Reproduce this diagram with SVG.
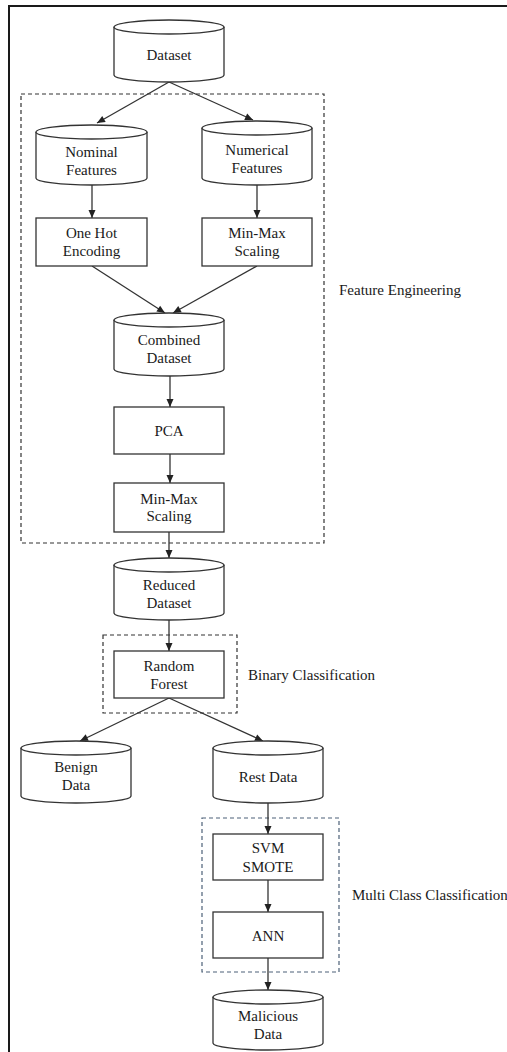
<svg xmlns="http://www.w3.org/2000/svg" width="507" height="1052" viewBox="0 0 507 1052">
<style>
.sh{fill:#fff;stroke:#333;stroke-width:1.3}
.t{font-family:"Liberation Serif","Times New Roman",serif;font-size:15px;fill:#1a1a1a;text-anchor:middle}
.lbl{font-family:"Liberation Serif","Times New Roman",serif;font-size:15px;fill:#1a1a1a}
.c{stroke:#333;stroke-width:1.3;fill:none;marker-end:url(#ah)}
.d{fill:none;stroke:#333;stroke-width:1.2;stroke-dasharray:4 3}
</style>
<defs>
<marker id="ah" markerUnits="userSpaceOnUse" markerWidth="10" markerHeight="10" viewBox="0 0 10 10" refX="9" refY="5" orient="auto">
<path d="M1 1.5 L9 5 L1 8.5 Z" fill="#222"/>
</marker>
</defs>
<rect width="507" height="1052" fill="#fff"/>
<g id="frame" stroke="#1a1a1a" stroke-width="2" fill="none">
<path d="M9 1052 V6 H507"/>
</g>
<g id="groups">
<rect id="fe-box" class="d" x="21" y="94" width="303" height="449"/>
<text class="lbl" x="339" y="295">Feature Engineering</text>
<rect id="bc-box" class="d" x="103" y="635" width="134" height="78"/>
<text class="lbl" x="248" y="680">Binary Classification</text>
<rect id="mc-box" class="d" x="202" y="818" width="137" height="154" style="stroke:#4d6178"/>
<text class="lbl" x="352" y="900">Multi Class Classification</text>
</g>
<g id="connectors">
<path class="c" d="M169 82 L97 123"/>
<path class="c" d="M169 82 L253 120"/>
<path class="c" d="M92 185 V218"/>
<path class="c" d="M257 185 V218"/>
<path class="c" d="M92 266 L165 313"/>
<path class="c" d="M257 266 L173 313"/>
<path class="c" d="M170 376 V407"/>
<path class="c" d="M170 454 V483"/>
<path class="c" d="M169 532 V558"/>
<path class="c" d="M169 620 V651"/>
<path class="c" d="M169 698 L80 741"/>
<path class="c" d="M169 698 L263 741"/>
<path class="c" d="M268 803 V834"/>
<path class="c" d="M268 880 V912"/>
<path class="c" d="M268 958 V990"/>
</g>
<g id="dataset">
<path class="sh" d="M114 27 V75 A55 7 0 0 0 224 75 V27"/>
<ellipse class="sh" cx="169" cy="27" rx="55" ry="7"/>
<text class="t" x="169" y="60">Dataset</text>
</g>
<g id="nominal">
<path class="sh" d="M36 132 V178 A55.5 7 0 0 0 147 178 V132"/>
<ellipse class="sh" cx="91.5" cy="132" rx="55.5" ry="7"/>
<text class="t" x="91.5" y="157">Nominal</text>
<text class="t" x="91.5" y="175">Features</text>
</g>
<g id="numerical">
<path class="sh" d="M202 128 V178 A55 7 0 0 0 312 178 V128"/>
<ellipse class="sh" cx="257" cy="128" rx="55" ry="7"/>
<text class="t" x="257" y="155">Numerical</text>
<text class="t" x="257" y="173">Features</text>
</g>
<g id="onehot">
<rect class="sh" x="36" y="218" width="111" height="48"/>
<text class="t" x="91.5" y="238">One Hot</text>
<text class="t" x="91.5" y="256">Encoding</text>
</g>
<g id="minmax1">
<rect class="sh" x="202" y="218" width="110" height="48"/>
<text class="t" x="257" y="238">Min-Max</text>
<text class="t" x="257" y="256">Scaling</text>
</g>
<g id="combined">
<path class="sh" d="M114 320 V369 A55 7 0 0 0 224 369 V320"/>
<ellipse class="sh" cx="169" cy="320" rx="55" ry="7"/>
<text class="t" x="169" y="345">Combined</text>
<text class="t" x="169" y="363">Dataset</text>
</g>
<g id="pca">
<rect class="sh" x="114" y="407" width="110" height="47"/>
<text class="t" x="169" y="436">PCA</text>
</g>
<g id="minmax2">
<rect class="sh" x="114" y="483" width="110" height="49"/>
<text class="t" x="169" y="504">Min-Max</text>
<text class="t" x="169" y="521">Scaling</text>
</g>
<g id="reduced">
<path class="sh" d="M114 565 V613 A55 7 0 0 0 224 613 V565"/>
<ellipse class="sh" cx="169" cy="565" rx="55" ry="7"/>
<text class="t" x="169" y="590">Reduced</text>
<text class="t" x="169" y="608">Dataset</text>
</g>
<g id="rf">
<rect class="sh" x="114" y="651" width="110" height="47"/>
<text class="t" x="169" y="671">Random</text>
<text class="t" x="169" y="689">Forest</text>
</g>
<g id="benign">
<path class="sh" d="M21 748 V796 A55 7 0 0 0 131 796 V748"/>
<ellipse class="sh" cx="76" cy="748" rx="55" ry="7"/>
<text class="t" x="76" y="772">Benign</text>
<text class="t" x="76" y="790">Data</text>
</g>
<g id="rest">
<path class="sh" d="M213 748 V796 A55 7 0 0 0 323 796 V748"/>
<ellipse class="sh" cx="268" cy="748" rx="55" ry="7"/>
<text class="t" x="268" y="782">Rest Data</text>
</g>
<g id="svm">
<rect class="sh" x="213" y="834" width="110" height="46"/>
<text class="t" x="268" y="853">SVM</text>
<text class="t" x="268" y="872">SMOTE</text>
</g>
<g id="ann">
<rect class="sh" x="213" y="912" width="110" height="46"/>
<text class="t" x="268" y="941">ANN</text>
</g>
<g id="malicious">
<path class="sh" d="M213 997 V1043 A55 7 0 0 0 323 1043 V997"/>
<ellipse class="sh" cx="268" cy="997" rx="55" ry="7"/>
<text class="t" x="268" y="1021">Malicious</text>
<text class="t" x="268" y="1039">Data</text>
</g>
</svg>
